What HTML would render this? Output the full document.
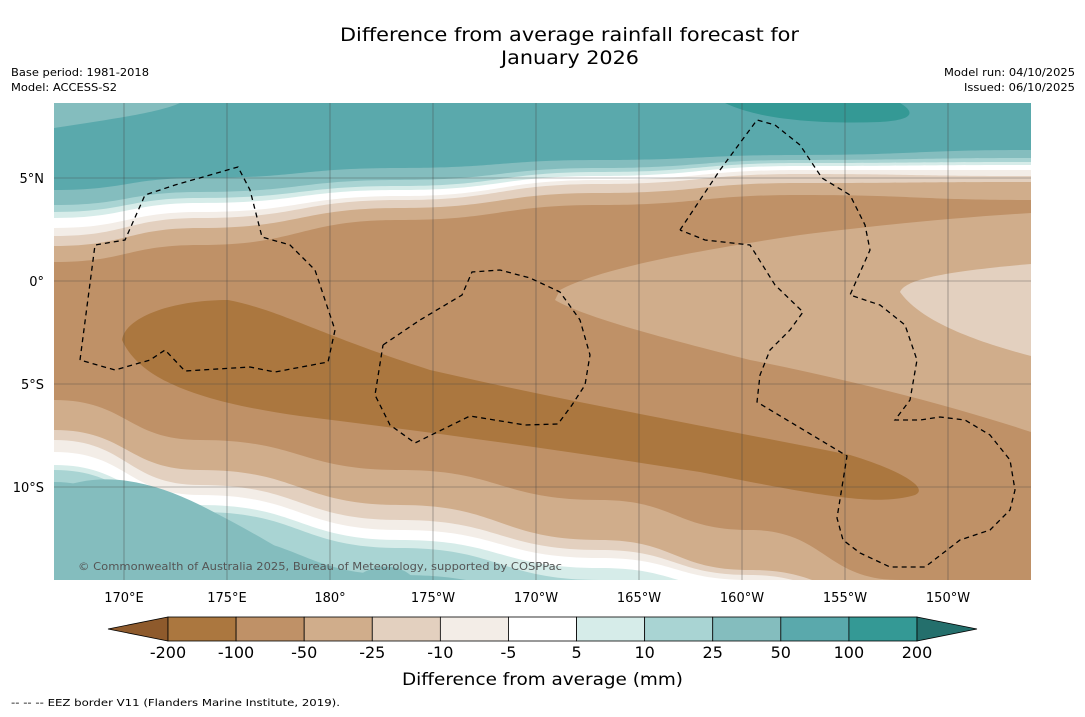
<!DOCTYPE html>
<html><head><meta charset="utf-8"><style>
body{margin:0;background:#fff;font-family:"DejaVu Sans",sans-serif}
svg text{font-family:"DejaVu Sans","Liberation Sans",sans-serif}
</style></head><body>
<svg width="1085" height="713" viewBox="0 0 1085 713">
<rect width="1085" height="713" fill="#fff"/>
<text x="340" y="41" font-size="19" textLength="459" lengthAdjust="spacingAndGlyphs">Difference from average rainfall forecast for</text>
<text x="501" y="64" font-size="19" textLength="138" lengthAdjust="spacingAndGlyphs">January 2026</text>
<text x="11" y="76" font-size="11" textLength="138" lengthAdjust="spacingAndGlyphs">Base period: 1981-2018</text>
<text x="11" y="91" font-size="11" textLength="106" lengthAdjust="spacingAndGlyphs">Model: ACCESS-S2</text>
<text x="944" y="76" font-size="11" textLength="131" lengthAdjust="spacingAndGlyphs">Model run: 04/10/2025</text>
<text x="964" y="91" font-size="11" textLength="111" lengthAdjust="spacingAndGlyphs">Issued: 06/10/2025</text>
<defs><clipPath id="mc"><rect x="54" y="103" width="977" height="477"/></clipPath></defs>
<g id="map" clip-path="url(#mc)"></g>
<g id="cbar"></g>
<text x="402" y="685" font-size="17" textLength="281" lengthAdjust="spacingAndGlyphs">Difference from average (mm)</text>
<text x="11" y="706" font-size="10" textLength="329" lengthAdjust="spacingAndGlyphs">--  --  -- EEZ border V11 (Flanders Marine Institute, 2019).</text>
</svg>
<script>
const bandLevels=["<-200","-200..-100","-100..-50","-50..-25","-25..-10","-10..-5","-5..5","5..10","10..25","25..50","50..100","100..200",">200"];
const bandColors=["#8e5a2c","#ab773f","#bf9167","#d0ad8b","#e3d0bf","#f3ede7","#ffffff","#d6ece9","#a9d4d3","#84bdbe","#5aa9ac","#349995","#246f6c"];
const tickLabels=["-200","-100","-50","-25","-10","-5","5","10","25","50","100","200"];
const lonTicks=[170,175,180,185,190,195,200,205,210];
const lonLabels=["170°E","175°E","180°","175°W","170°W","165°W","160°W","155°W","150°W"];
const latTicks=[5,0,-5,-10];
const latLabels=["5°N","0°","5°S","10°S"];
const NS="http://www.w3.org/2000/svg";
const lonX=l=>124+(l-170)*20.6;
const latY=l=>281-l*20.6;
const map=document.getElementById('map');
function el(t,a,p){const e=document.createElementNS(NS,t);for(const k in a)e.setAttribute(k,a[k]);(p||map).appendChild(e);return e;}
const xs=[54,200,400,600,800,1031];
const topB=[[190,178,168,160,155,150,9],[205,192,180,168,160,158,8],[212,198,186,172,163,162,7],[218,203,190,176,166,165,6],[228,212,196,180,170,170,5],[236,218,200,184,174,176,4],[246,228,208,193,183,182,3],[262,245,220,205,195,200,2]];
const bx=[54,200,400,600,750,900,1031];
const botB=[[400,440,470,500,530,580,600,3],[430,470,505,540,570,600,620,4],[440,485,520,550,575,610,630,5],[452,495,530,558,580,620,640,6],[465,505,540,568,590,630,650,7],[470,512,548,580,600,640,660,8],[482,535,575,600,620,660,680,9]];
function smooth(X,Y){let d='M'+X[0]+','+Y[0];for(let i=1;i<X.length;i++){const mx=(X[i-1]+X[i])/2;d+=' C'+mx+','+Y[i-1]+' '+mx+','+Y[i]+' '+X[i]+','+Y[i];}return d;}
el('rect',{x:54,y:103,width:977,height:477,fill:bandColors[10]});
topB.forEach(b=>{const Y=b.slice(0,6);const p=el('path',{d:smooth(xs,Y)+' L1031,700 L54,700 Z',fill:bandColors[b[6]]});});
botB.forEach(b=>{const Y=b.slice(0,7);const p=el('path',{d:smooth(bx,Y)+' L1031,720 L54,720 Z',fill:bandColors[b[7]]});});
const patches=[
 [9,"M54,103 L180,103 C160,112 120,118 54,128 Z"],
 [11,"M725,103 L900,103 C915,112 915,120 880,122 C820,124 760,120 725,103 Z"],
 [9,"M54,490 C100,470 150,480 200,505 C250,530 300,560 330,580 L54,580 Z"],
 [9,"M355,580 C365,565 400,560 415,580 Z"],
 [3,"M560,290 C600,268 700,250 800,235 C880,225 950,218 1031,213 L1031,432 C950,405 850,380 750,360 C650,335 580,315 555,300 Z"],
 [4,"M900,292 C905,280 940,272 1031,264 L1031,356 C970,340 920,320 900,292 Z"],
 [1,"M122,340 C125,318 170,300 228,300 C280,310 320,335 430,370 C560,400 700,425 850,455 C900,470 930,488 915,495 C880,505 840,500 700,472 C560,450 430,432 300,416 C200,402 140,380 122,340 Z"]
];
patches.forEach(pt=>{const p=el('path',{d:pt[1],fill:bandColors[pt[0]]});});
lonTicks.forEach(l=>{const g=el('line',{x1:lonX(l),x2:lonX(l),y1:103,y2:580,stroke:'#444','stroke-width':0.6,opacity:0.7});});
latTicks.forEach(l=>{const g=el('line',{x1:54,x2:1031,y1:latY(l),y2:latY(l),stroke:'#444','stroke-width':0.6,opacity:0.7});});
const eez=[
"80,360 95,245 125,240 145,195 175,185 238,167 250,190 262,237 290,245 315,270 325,300 335,330 328,362 275,372 250,367 185,371 165,350 150,360 115,370 80,360",
"383,345 420,320 462,295 472,272 500,270 530,278 560,292 580,320 590,355 585,385 572,405 558,424 525,425 470,416 415,443 390,425 375,395 383,345",
"680,230 720,170 757,120 775,125 800,145 822,178 850,195 865,225 870,250 850,295 880,305 905,325 917,360 910,400 895,420 920,420 940,417 965,420 990,435 1010,460 1015,490 1010,510 990,530 960,540 925,567 890,567 860,553 843,540 837,518 847,456 757,402 760,375 770,350 790,330 803,312 775,285 750,245 705,240 680,230"];
eez.forEach(pts=>{const p=el('polyline',{points:pts,fill:'none',stroke:'#000','stroke-width':1.3,'stroke-dasharray':'5,4'});});
const cp=el('text',{x:78,y:570,'font-size':11,fill:'#555',textLength:484,lengthAdjust:'spacingAndGlyphs'});cp.textContent='© Commonwealth of Australia 2025, Bureau of Meteorology, supported by COSPPac';

const svg=document.querySelector('svg');
lonTicks.forEach((l,i)=>{const t=el('text',{x:lonX(l),y:602,'font-size':13,'text-anchor':'middle'},svg);t.textContent=lonLabels[i];});
latTicks.forEach((l,i)=>{const t=el('text',{x:44,y:latY(l)+5,'font-size':13,'text-anchor':'end'},svg);t.textContent=latLabels[i];});
const cb=document.getElementById('cbar');
const x0=168,w=(917-168)/11;
const l=el('polygon',{points:`108,629 ${x0},617 ${x0},641`,fill:bandColors[0],stroke:'#000','stroke-width':0.8},cb);
for(let i=0;i<11;i++){const r=el('rect',{x:x0+i*w,y:617,width:w,height:24,fill:bandColors[i+1],stroke:'#000','stroke-width':0.8},cb);}
const r2=el('polygon',{points:`917,617 977,629 917,641`,fill:bandColors[12],stroke:'#000','stroke-width':0.8},cb);
tickLabels.forEach((t,i)=>{const e=el('text',{x:x0+i*w,y:658,'font-size':16,'text-anchor':'middle'},cb);e.textContent=t;});
</script>
</body></html>
